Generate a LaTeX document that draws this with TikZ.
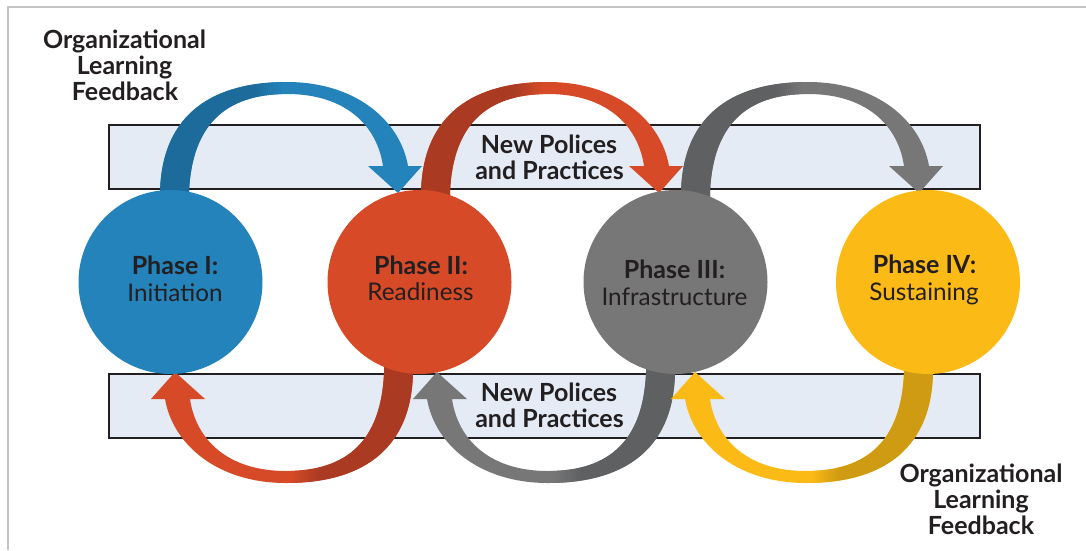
\documentclass[tikz,border=0pt]{standalone}
\usepackage{fontspec}
\setmainfont{Lato}
\definecolor{ink}{HTML}{231F20}
\definecolor{bandfill}{HTML}{E4EBF5}
\definecolor{framegray}{HTML}{C4C4C4}
\definecolor{bluelight}{HTML}{2383BA}
\definecolor{bluedark}{HTML}{1C6B9B}
\definecolor{redlight}{HTML}{D64A28}
\definecolor{reddark}{HTML}{AA3B22}
\definecolor{graylight}{HTML}{777778}
\definecolor{graydark}{HTML}{5F6062}
\definecolor{yellowlight}{HTML}{FBBA16}
\definecolor{yellowdark}{HTML}{CF9B13}
% #1 tip x, #2 tip y, #3 orientation (1 or -1), #4 light, #5 dark, #6 shade keys
\newcommand{\bigarrow}[6]{%
\begin{scope}
\clip ({#1-238*(#3)},{#2+7*(#3)}) -- ({#1-238*(#3)},{#2-1*(#3)})
 .. controls ({#1-236*(#3)},{#2-81*(#3)}) and ({#1-183*(#3)},{#2-111*(#3)}) .. ({#1-111*(#3)},{#2-111*(#3)})
 .. controls ({#1-43*(#3)},{#2-111*(#3)}) and ({#1+2*(#3)},{#2-73*(#3)}) .. ({#1+10*(#3)},{#2-27*(#3)})
 -- ({#1+24*(#3)},{#2-27*(#3)}) -- (#1,#2) -- ({#1-30*(#3)},{#2-27*(#3)}) -- ({#1-15*(#3)},{#2-27*(#3)})
 .. controls ({#1-21*(#3)},{#2-68*(#3)}) and ({#1-53*(#3)},{#2-99*(#3)}) .. ({#1-111*(#3)},{#2-99*(#3)})
 .. controls ({#1-173*(#3)},{#2-99*(#3)}) and ({#1-206*(#3)},{#2-68*(#3)}) .. ({#1-209*(#3)},{#2-1*(#3)})
 -- ({#1-209*(#3)},{#2+7*(#3)}) -- cycle;
\fill[#4] ({#1-260*(#3)},{#2+12*(#3)}) rectangle ({#1+40*(#3)},{#2-125*(#3)});
\fill[#5] ({#1-260*(#3)},{#2+12*(#3)}) rectangle ({#1-144*(#3)},{#2-125*(#3)});
\shade[#6] ({#1-144*(#3)},{#2+12*(#3)}) rectangle ({#1-116*(#3)},{#2-125*(#3)});
\end{scope}}
\begin{document}
\begin{tikzpicture}[x=1pt,y=-1pt,
  phase/.style={circle, minimum size=184pt, inner sep=0pt, draw=none},
  band/.style={draw=ink, line width=2pt, fill=bandfill, minimum width=871pt, minimum height=64pt, inner sep=0pt},
  txt/.style={text=ink, font=\fontsize{24.3}{26.5}\selectfont, anchor=base, inner sep=0pt},
  btxt/.style={text=ink, font=\fontsize{25}{26.5}\selectfont\bfseries, anchor=base, inner sep=0pt}]
\useasboundingbox (0,0) rectangle (1086,550);
\fill[white] (0,0) rectangle (1086,550);
\draw[framegray, line width=1.5pt] (8,550) -- (8,7) -- (1086,7);
% bands
\node[band] (bandtop) at (544.5,157) {};
\node[band] (bandbot) at (544.5,406) {};
% top arrows
\bigarrow{398}{193}{1}{bluelight}{bluedark}{left color=bluedark,right color=bluelight}
\bigarrow{659}{193}{1}{redlight}{reddark}{left color=reddark,right color=redlight}
\bigarrow{919}{193}{1}{graylight}{graydark}{left color=graydark,right color=graylight}
% bottom arrows
\bigarrow{175}{372}{-1}{redlight}{reddark}{left color=redlight,right color=reddark}
\bigarrow{437}{372}{-1}{graylight}{graydark}{left color=graylight,right color=graydark}
\bigarrow{695}{372}{-1}{yellowlight}{yellowdark}{left color=yellowlight,right color=yellowdark}
% circles
\node[phase, fill=bluelight] (p1) at (170.5,282) {};
\node[phase, fill=redlight] (p2) at (419.5,282) {};
\node[phase, fill=graylight] (p3) at (675.5,282) {};
\node[phase, fill=yellowlight] (p4) at (928,282) {};
% circle texts
\node[btxt] (p1a) at (175,274) {Phase I:};
\node[txt] (p1b) at (175,301) {Initiation};
\node[btxt] (p2a) at (421,274) {Phase II:};
\node[txt] (p2b) at (420.5,300) {Readiness};
\node[btxt] (p3a) at (674.5,278) {Phase III:};
\node[txt] (p3b) at (674.5,305) {Infrastructure};
\node[btxt] (p4a) at (924.5,273) {Phase IV:};
\node[txt] (p4b) at (924,300) {Sustaining};
% band texts
\node[btxt] (t1) at (549,153) {New Polices};
\node[btxt] (t2) at (549.5,179) {and Practices};
\node[btxt] (t3) at (549,401) {New Polices};
\node[btxt] (t4) at (549.5,427) {and Practices};
% feedback labels
\node[btxt] (f1) at (124.5,48) {Organizational};
\node[btxt] (f2) at (124.5,74) {Learning};
\node[btxt] (f3) at (125,100) {Feedback};
\node[btxt] (g1) at (981,482) {Organizational};
\node[btxt] (g2) at (981,508) {Learning};
\node[btxt] (g3) at (981,534) {Feedback};
\end{tikzpicture}
\end{document}
